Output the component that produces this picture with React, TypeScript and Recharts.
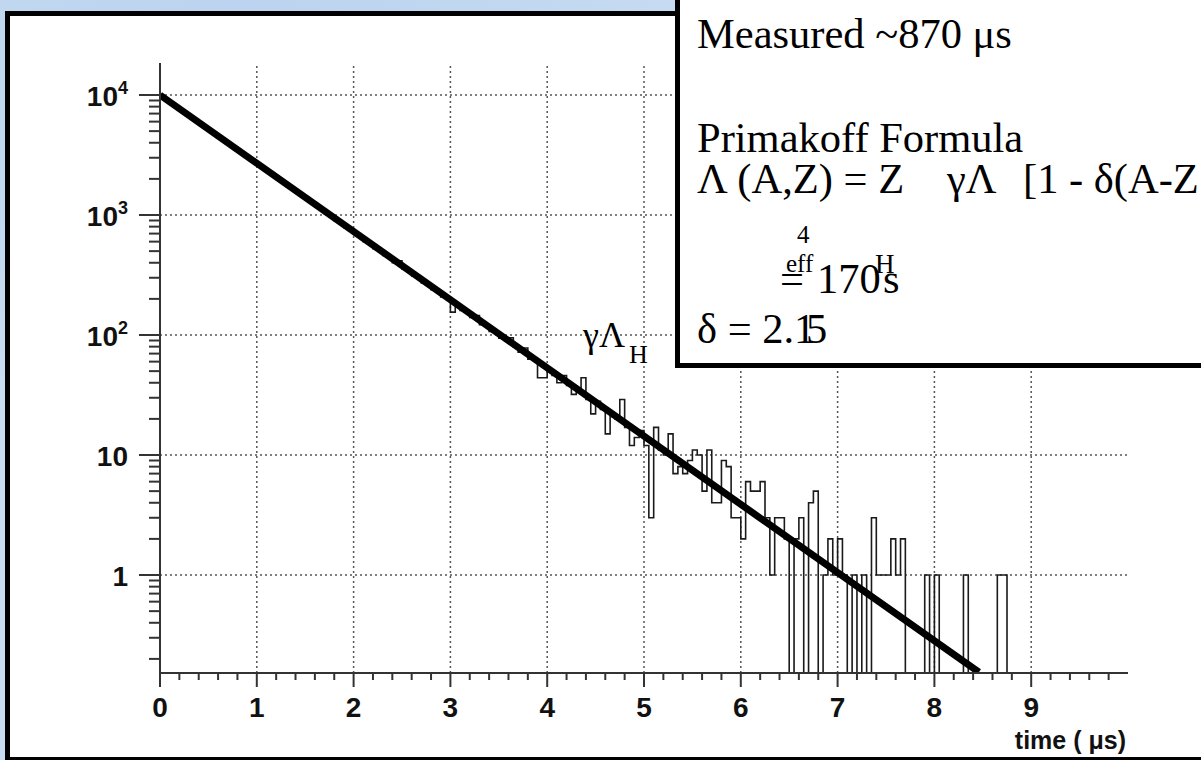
import React from "react";
import { ComposedChart, Line, XAxis, YAxis, ReferenceLine } from "recharts";

// muon decay time spectrum, 0.05 us bins from 0 to 10 us
const BIN_WIDTH = 0.05;
const counts: number[] = [
  9650, 9080, 8460, 7990, 7410, 6980, 6490, 6130, 5690, 5380,
  4990, 4720, 4370, 4130, 3840, 3630, 3350, 3180, 2940, 2790,
  2580, 2450, 2260, 2150, 1980, 1880, 1730, 1650, 1520, 1450,
  1330, 1270, 1160, 1110, 1020, 975, 895, 855, 785, 750,
  690, 660, 600, 580, 525, 510, 460, 445, 400, 415,
  355, 342, 310, 300, 272, 262, 238, 232, 208, 205,
  155, 178, 160, 156, 140, 145, 122, 120, 107, 105,
  94, 92, 95, 80, 72, 78, 63, 62, 44, 44,
  50, 46, 40, 46, 38, 32, 34, 44, 29, 22,
  28, 24, 15, 21, 20, 29, 17, 12, 14, 16,
  12, 3, 17, 11, 10, 15, 7, 8, 7, 9,
  11, 10, 5, 11, 4, 4, 9, 8, 3, 3,
  2, 6, 5, 5, 6, 3, 1, 3, 3, 2,
  0, 2, 3, 0, 4, 5, 0, 1, 2, 1,
  2, 1, 0, 1, 0, 1, 0, 3, 1, 1,
  1, 2, 1, 2, 0, 0, 0, 0, 1, 0,
  1, 0, 0, 0, 0, 0, 1, 0, 0, 0,
  0, 0, 0, 1, 1, 0, 0, 0, 0, 0,
  0, 0, 0, 0, 0, 0, 0, 0, 0, 0,
  0, 0, 0, 0, 0, 0, 0, 0, 0, 0,
];

// exponential fit, straight on the log axis
const fitTime = [0, 8.46];
const fitValue = [10000, 0.155];

const xMajor = [0, 1, 2, 3, 4, 5, 6, 7, 8, 9];
const xLabels = ["0", "1", "2", "3", "4", "5", "6", "7", "8", "9"];
const yMajor = [1, 10, 100, 1000, 10000];
const yLabels: [string, string][] = [["1", ""], ["10", ""], ["10", "2"], ["10", "3"], ["10", "4"]];

const X_DOMAIN: [number, number] = [0, 10];
const Y_DOMAIN: [number, number] = [0.1526, 18478];
const EMPTY = 0.05; // empty bins drop below the axis and get clipped

const histData = counts.map((c, i) => ({ t: i * BIN_WIDTH, count: c > 0 ? c : EMPTY }));
histData.push({ t: X_DOMAIN[1], count: EMPTY });

const fitData = fitTime.map((t, i) => ({ t, fit: fitValue[i] }));

const xTicks: number[] = [];
for (let i = 0; i < 50; i++) xTicks.push(+(i * 0.2).toFixed(1));

const yTicks: number[] = [];
for (let d = -1; d <= 4; d++) {
  for (let m = 1; m <= 9; m++) {
    const v = +(m * Math.pow(10, d)).toPrecision(2);
    if (v >= Y_DOMAIN[0] && v <= Y_DOMAIN[1]) yTicks.push(v);
  }
}

const SANS = "'Liberation Sans', Arial, Helvetica, sans-serif";
const SERIF = "'Liberation Serif', 'Times New Roman', serif";
const AXIS = "#333";
const GRID = "#555";

function XTick(props: any) {
  const { x, y, payload } = props;
  const v = payload.value as number;
  const idx = xMajor.findIndex((m) => Math.abs(m - v) < 1e-6);
  const major = idx >= 0;
  return (
    <g>
      <line x1={x} x2={x} y1={y} y2={y + (major ? 14 : 7)} stroke={AXIS} strokeWidth={2} />
      {major && (
        <text x={x} y={y + 44} textAnchor="middle" fontFamily={SANS} fontWeight="bold" fontSize={28} fill="#111">
          {xLabels[idx]}
        </text>
      )}
    </g>
  );
}

function YTick(props: any) {
  const { x, y, payload } = props;
  const v = payload.value as number;
  const idx = yMajor.findIndex((m) => Math.abs(m - v) / m < 1e-6);
  const major = idx >= 0;
  return (
    <g>
      <line x1={x - (major ? 21 : 11)} x2={x} y1={y} y2={y} stroke={AXIS} strokeWidth={2} />
      {major && (
        <text x={x - 32} y={y + 11} textAnchor="end" fontFamily={SANS} fontWeight="bold" fontSize={28} fill="#111">
          <tspan>{yLabels[idx][0]}</tspan>
          {yLabels[idx][1] && (
            <tspan dy={-12} fontSize={18}>
              {yLabels[idx][1]}
            </tspan>
          )}
        </text>
      )}
    </g>
  );
}

export default function App() {
  return (
    <div
      style={{
        position: "fixed",
        left: 0,
        top: 0,
        width: 1201,
        height: 760,
        overflow: "hidden",
        background:
          "radial-gradient(ellipse at 20% 10%, #b9d2ee 0%, rgba(185,210,238,0) 40%), radial-gradient(ellipse at 90% 80%, #d9e8f7 0%, rgba(217,232,247,0) 50%), #c9ddf2",
      }}
    >
      <div
        style={{
          position: "absolute",
          left: 5,
          top: 11,
          width: 1300,
          height: 749,
          boxSizing: "border-box",
          background: "#fff",
          borderTop: "5px solid #000",
          borderLeft: "5px solid #000",
          borderBottom: "3px solid #000",
        }}
      />
      <div style={{ position: "absolute", left: 0, top: 0 }}>
        <ComposedChart width={1201} height={760} margin={{ top: 63, right: 73, bottom: 0, left: 0 }}>
          <XAxis
            type="number"
            dataKey="t"
            domain={X_DOMAIN}
            allowDataOverflow
            ticks={xTicks}
            interval={0}
            height={87}
            tickSize={0}
            tickMargin={0}
            tickLine={false}
            tick={(p: any) => <XTick {...p} />}
            axisLine={{ stroke: AXIS, strokeWidth: 2 }}
          />
          <YAxis
            type="number"
            scale="log"
            domain={Y_DOMAIN}
            allowDataOverflow
            ticks={yTicks}
            interval={0}
            width={160}
            tickSize={0}
            tickMargin={0}
            tickLine={false}
            tick={(p: any) => <YTick {...p} />}
            axisLine={{ stroke: AXIS, strokeWidth: 2 }}
          />
          {xMajor.slice(1).map((v) => (
            <ReferenceLine key={"gx" + v} x={v} stroke={GRID} strokeWidth={1.5} strokeDasharray="2 3" />
          ))}
          {yMajor.map((v) => (
            <ReferenceLine key={"gy" + v} y={v} stroke={GRID} strokeWidth={1.5} strokeDasharray="2 3" />
          ))}
          <Line
            data={histData}
            dataKey="count"
            type="stepAfter"
            stroke="#1a1a1a"
            strokeWidth={1.6}
            dot={false}
            isAnimationActive={false}
          />
          <Line
            data={fitData}
            dataKey="fit"
            type="linear"
            stroke="#000"
            strokeWidth={7}
            dot={false}
            isAnimationActive={false}
          />
        </ComposedChart>
      </div>
      <svg width={1201} height={760} style={{ position: "absolute", left: 0, top: 0 }}>
        <text x={1126} y={749} textAnchor="end" fontFamily={SANS} fontWeight="bold" fontSize={25} fill="#111">
          time ( μs)
        </text>
        <text x={583} y={347} fontFamily={SERIF} fontSize={36} fill="#000">
          γΛ
        </text>
        <text x={629} y={363} fontFamily={SERIF} fontSize={26} fill="#000">
          H
        </text>
        <rect x={677.5} y={-20} width={620} height={385.5} fill="#fff" stroke="#000" strokeWidth={5} />
        <g fontFamily={SERIF} fill="#000">
          <text x={697} y={48} fontSize={42.5}>Measured ~870 μs</text>
          <text x={697} y={152} fontSize={42.5}>Primakoff Formula</text>
          <text x={697} y={193} fontSize={42.5}>Λ (A,Z) = Z</text>
          <text x={947} y={193} fontSize={42.5}>γΛ</text>
          <text x={1023} y={193} fontSize={42.5}>[1 - δ(A-Z</text>
          <text x={797} y={243} fontSize={25}>4</text>
          <text x={786} y={272} fontSize={25}>eff</text>
          <text x={780} y={293} fontSize={42.5}>=</text>
          <text x={817} y={293} fontSize={42.5}>170</text>
          <text x={875} y={273} fontSize={27}>H</text>
          <text x={883} y={293} fontSize={42.5}>s</text>
          <text x={697} y={343} fontSize={42.5}>δ = 2.1</text>
          <text x={806} y={343} fontSize={42.5}>5</text>
        </g>
      </svg>
    </div>
  );
}
